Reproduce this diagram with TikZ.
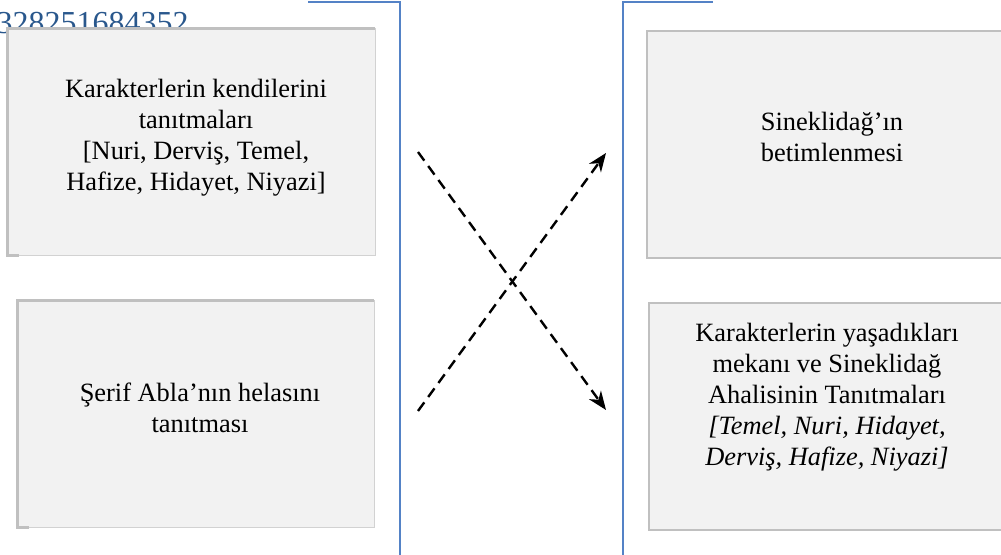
\documentclass[tikz,border=0pt]{standalone}
\usepackage{fontspec}
\setmainfont{Liberation Serif}
\usetikzlibrary{arrows.meta}
\definecolor{boxfill}{RGB}{242,242,242}
\definecolor{boxedge}{RGB}{192,192,192}
\definecolor{boxthin}{RGB}{210,210,210}
\definecolor{rulecol}{RGB}{84,130,198}
\definecolor{numblue}{RGB}{41,87,140}

\begin{document}
\begin{tikzpicture}[x=0.75pt,y=-0.75pt,
  panel/.style={fill=boxfill, inner sep=0pt, outer sep=0pt, anchor=north west,
                minimum width=276pt, minimum height=170pt},
  leftpanel/.style={panel, draw=boxthin, line width=0.75pt},
  rightpanel/.style={panel, draw=boxedge, line width=1.5pt},
  shade/.style={draw=boxedge, line width=2.25pt},
  txt/.style={align=center, inner sep=0pt, font=\fontsize{19.8pt}{23.25pt}\selectfont},
  numtxt/.style={inner sep=0pt, text=numblue, font=\fontsize{24pt}{28pt}\selectfont},
  bracket/.style={draw=rulecol, line width=1.4pt},
  flow/.style={draw=black, line width=1.8pt, dash pattern=on 8pt off 5pt,
               -{Stealth[length=14pt, width=11pt, inset=4.5pt]}}]

\clip (0,0) rectangle (1001,555);
\useasboundingbox (0,0) rectangle (1001,555);

% page number peeking out behind the first panel
\node[numtxt, anchor=base east] (num) at (189,34) {328251684352};

% blue rules of the two columns
\coordinate (lt) at (308,2);
\coordinate (lc) at (400,2);
\coordinate (lb) at (400,560);
\coordinate (rb) at (623,560);
\coordinate (rc) at (623,2);
\coordinate (rt) at (713,2);
\draw[bracket] (lt) -- (lc) -- (lb);
\draw[bracket] (rb) -- (rc) -- (rt);

% left column panels
\node[leftpanel] (L1) at (7,29) {};
\draw[shade] ([xshift=9pt]L1.south west) -- (L1.south west) -- (L1.north west) -- (L1.north east);
\node[leftpanel, minimum width=267.75pt] (L2) at (17,301) {};
\draw[shade] ([xshift=9pt]L2.south west) -- (L2.south west) -- (L2.north west) -- (L2.north east);

% right column panels
\node[rightpanel] (R1) at (647,31) {};
\node[rightpanel] (R2) at (649,303) {};

% panel texts
\node[txt] (tL1) at (196,137.5) {Karakterlerin kendilerini\\tanıtmaları\\{[}Nuri, Derviş, Temel,\\Hafize, Hidayet, Niyazi]};
\node[txt] (tL2) at (200,407.5) {Şerif Abla’nın helasını\\tanıtması};
\node[txt] (tR1) at (832,136.5) {Sineklidağ’ın\\betimlenmesi};
\node[txt] (tR2) at (827,397) {Karakterlerin yaşadıkları\\mekanı ve Sineklidağ\\Ahalisinin Tanıtmaları\\\textit{[Temel, Nuri, Hidayet,}\\\textit{Derviş, Hafize, Niyazi]}};

% crossing dashed arrows
\coordinate (a1s) at (418,152);
\coordinate (a1e) at (606,410);
\coordinate (a2s) at (418,411);
\coordinate (a2e) at (606,153);
\draw[flow] (a1s) -- (a1e);
\draw[flow] (a2s) -- (a2e);
\end{tikzpicture}
\end{document}
